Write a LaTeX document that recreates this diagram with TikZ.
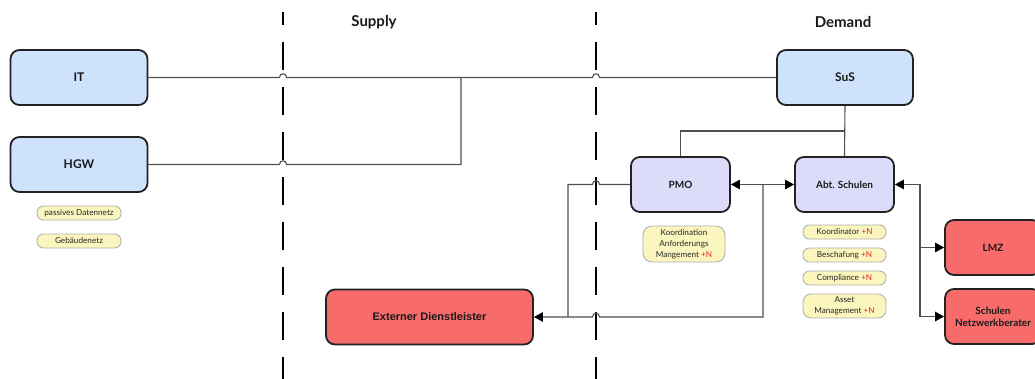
\documentclass[tikz,border=0pt]{standalone}
\usepackage{fontspec}
\setmainfont{Lato}
\newfontfamily\arialfont{Liberation Sans}
\usetikzlibrary{arrows.meta,calc}
\definecolor{bluefill}{HTML}{CFE2FC}
\definecolor{lavfill}{HTML}{DCDCFA}
\definecolor{redfill}{HTML}{F86B6B}
\definecolor{pillfill}{HTML}{FAF6BE}
\definecolor{pilldraw}{HTML}{B0B0B0}
\definecolor{plusred}{HTML}{E82020}
\definecolor{linec}{HTML}{505050}
\definecolor{boxline}{HTML}{222222}
\newcommand\plusN{\textcolor{plusred}{+N}}
\tikzset{
  basebox/.style={draw=boxline, line width=1.8pt, rounded corners=9pt, align=center, text=black!90, font=\bfseries\fontsize{10}{12}\selectfont},
  bluebox/.style={basebox, fill=bluefill, minimum width=137pt, minimum height=55pt, font=\bfseries\fontsize{12}{14}\selectfont},
  lavbox/.style={basebox, fill=lavfill, minimum width=99pt, minimum height=55pt},
  redbox/.style={basebox, fill=redfill, minimum width=96pt, minimum height=55pt},
  pill/.style={draw=pilldraw, fill=pillfill, line width=0.9pt, rounded corners=6.5pt, align=center, minimum width=83pt, minimum height=14pt, inner sep=1.2pt, text=black!85, font=\fontsize{8.2}{10.8}\selectfont},
  titletext/.style={font=\bfseries\fontsize{15}{18}\selectfont, text=black!90},
  divider/.style={draw=black, line width=2.6pt, dash pattern=on 28pt off 17pt, dash phase=15pt},
  conn/.style={draw=linec, line width=1.1pt},
  tipA/.style={-{Triangle[length=9pt,width=9.5pt,color=black]}},
  tipB/.style={{Triangle[length=9pt,width=9.5pt,color=black]}-{Triangle[length=9pt,width=9.5pt,color=black]}},
  hop/.style={insert path={-- ([xshift=-3.5pt]#1) .. controls ([xshift=-3.5pt,yshift=5pt]#1) and ([xshift=3.5pt,yshift=5pt]#1) .. ([xshift=3.5pt]#1)}},
  hopL/.style={insert path={-- ([xshift=3.5pt]#1) .. controls ([xshift=3.5pt,yshift=5pt]#1) and ([xshift=-3.5pt,yshift=5pt]#1) .. ([xshift=-3.5pt]#1)}}
}
\begin{document}
\begin{tikzpicture}[x=1pt,y=-1pt]
\useasboundingbox (0,0) rectangle (1035,378);
% dividers
\coordinate (dA) at (283,12);
\coordinate (dB) at (596,12);
\draw[divider] (dA) -- (dA |- 0,380);
\draw[divider] (dB) -- (dB |- 0,380);
% titles
\node[titletext] (supply) at (374,22) {Supply};
\node[titletext] (demand) at (843,22) {Demand};
% supply side
\node[bluebox] (it) at (79,77.5) {IT};
\node[bluebox] (hgw) at (79,164.5) {HGW};
\node[pill, minimum width=84pt] (p1) at (79,213) {passives Datennetz};
\node[pill, minimum width=84pt] (p2) at (79,241) {Gebäudenetz};
% demand side
\node[bluebox, minimum width=136pt] (sus) at (845,77.5) {SuS};
\node[lavbox] (pmo) at (680.5,184.5) {PMO};
\node[lavbox] (abt) at (844.5,184.5) {Abt. Schulen};
\node[pill, minimum width=82pt, minimum height=36pt, rounded corners=9pt] (pm) at (684,244) {Koordination\\Anforderungs\\Mangement \plusN};
\node[pill] (k1) at (844.5,232) {Koordinator \plusN};
\node[pill] (k2) at (844.5,255) {Beschafung \plusN};
\node[pill] (k3) at (844.5,278) {Compliance \plusN};
\node[pill, minimum height=24pt, rounded corners=8pt] (k4) at (844.5,306) {Asset\\Management \plusN};
\node[redbox, minimum width=207pt, font=\arialfont\bfseries\fontsize{11}{13}\selectfont] (ext) at (429.5,317) {Externer Dienstleister};
\node[redbox] (lmz) at (993,247.5) {LMZ};
\node[redbox] (snb) at (993,316.5) {Schulen\\Netzwerkberater};
% helper coordinates
\coordinate (h1) at (dA |- it.east);
\coordinate (h2) at (dB |- it.east);
\coordinate (h3) at (dA |- hgw.east);
\coordinate (jH) at (461,0);
\coordinate (j2) at (763,0);
\coordinate (j3) at (568,0);
\coordinate (j4) at (920,0);
\coordinate (h4) at (dB |- pmo.west);
\coordinate (h5) at (dB |- ext.east);
\coordinate (jS) at ($(sus.south)!0.5!(abt.north)$);
% connectors
\draw[conn] (it.east) [hop=h1] [hop=h2] -- (sus.west);
\draw[conn] (hgw.east) [hop=h3] -- (jH |- hgw.east) -- (jH |- it.east);
\draw[conn] (sus.south) -- (abt.north);
\draw[conn] (jS) -| (pmo.north);
\draw[conn, tipB] (pmo.east) -- (abt.west);
\draw[conn, tipA] (j2 |- pmo.east) -- (j2 |- ext.east) [hopL=h5] -- (ext.east);
\draw[conn] (j3 |- ext.east) -- (j3 |- pmo.west) [hop=h4] -- (pmo.west);
\draw[conn, tipB] (abt.east) -- (j4 |- abt.east) |- (snb.west);
\draw[conn, tipA] (j4 |- lmz.west) -- (lmz.west);
\end{tikzpicture}
\end{document}
